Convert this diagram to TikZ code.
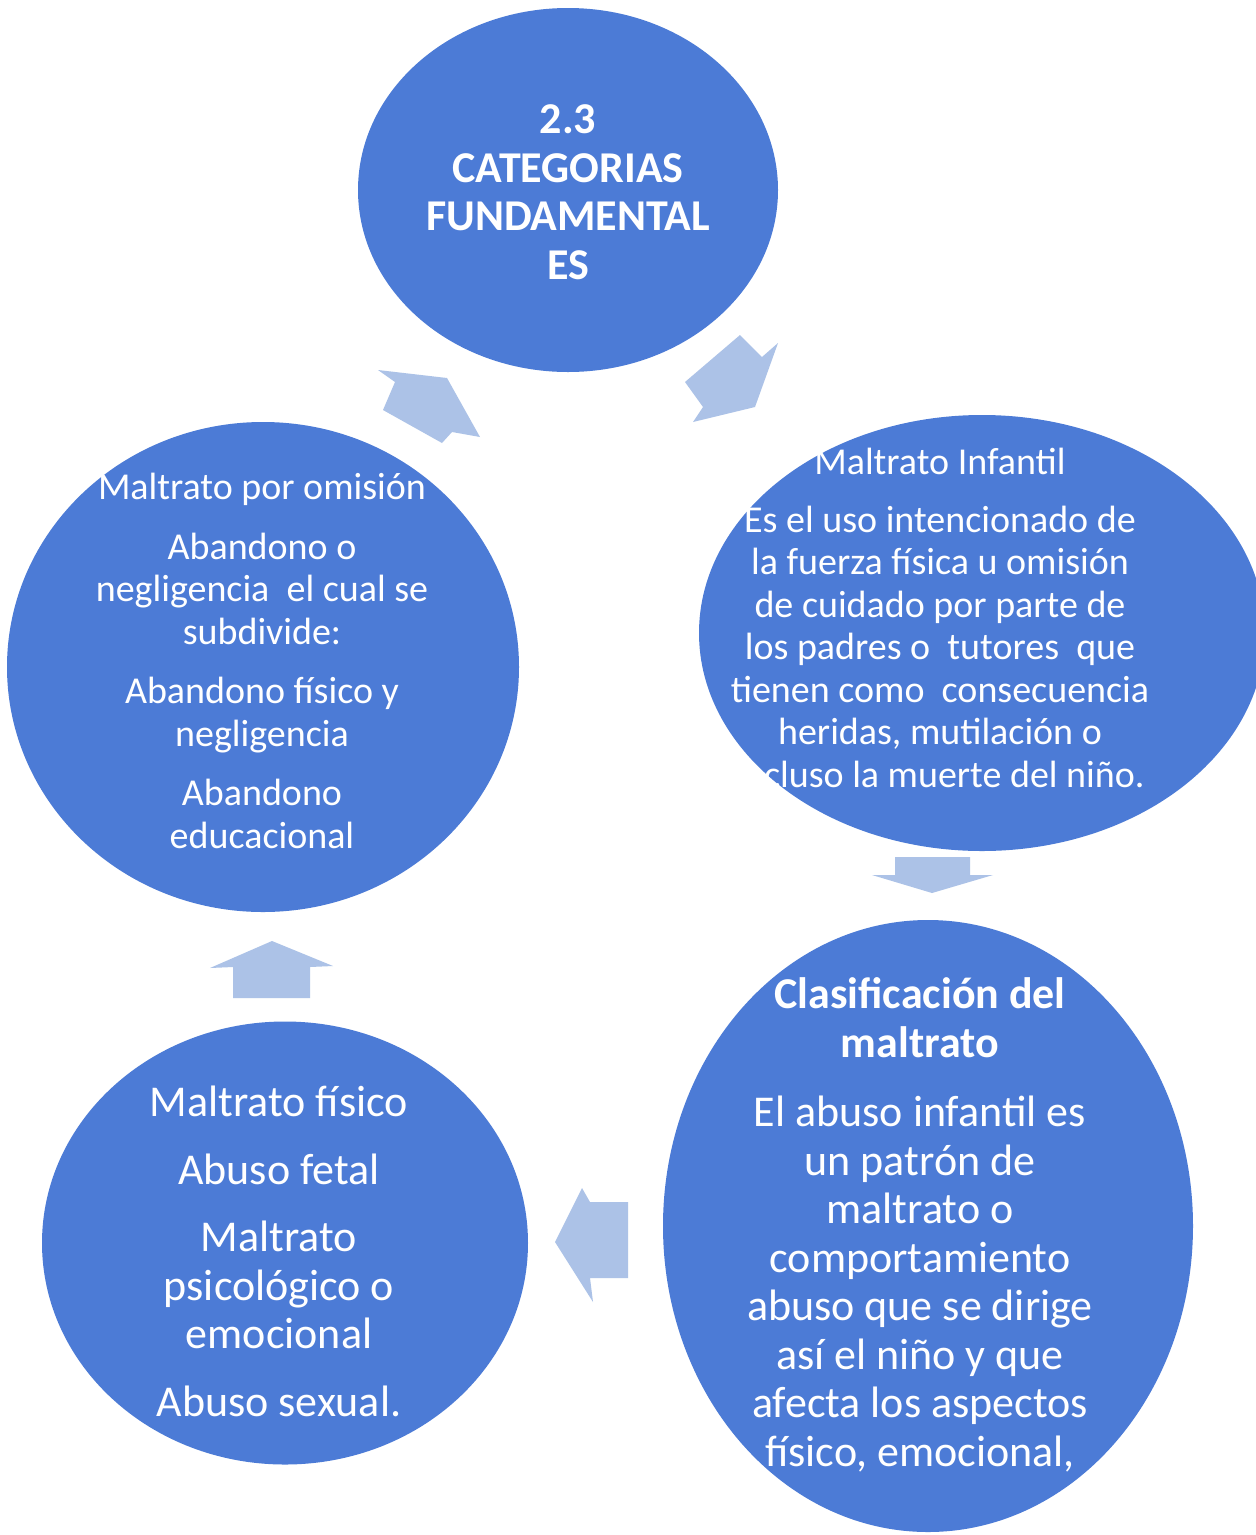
\documentclass[tikz,border=0pt]{standalone}
\usepackage{fontspec}
\setmainfont{Carlito}
\usetikzlibrary{shapes.geometric}
\definecolor{circblue}{RGB}{76,123,214}
\definecolor{arrblue}{RGB}{172,194,231}
\begin{document}
\begin{tikzpicture}[x=1pt,y=-1pt,
  bubble/.style={ellipse,fill=circblue,draw=none,inner sep=0pt},
  smalltext/.style={text=white,align=center,anchor=base,inner sep=0pt,font=\fontsize{38}{42.5}\selectfont},
  bigtext/.style={text=white,align=center,anchor=base,inner sep=0pt,font=\fontsize{44}{48.5}\selectfont},
  arrowshape/.style={fill=arrblue,draw=none}]
\useasboundingbox (0,0) rectangle (1256,1535);
\fill[white] (0,0) rectangle (1256,1535);

% circles
\node[bubble,minimum width=420pt,minimum height=364pt] (cat) at (568,190) {};
\node[bubble,minimum width=566pt,minimum height=436pt] (inf) at (982,633) {};
\node[bubble,minimum width=512pt,minimum height=490pt] (omi) at (263,667) {};
\node[bubble,minimum width=486pt,minimum height=443pt] (fis) at (285,1243) {};
\node[bubble,minimum width=530pt,minimum height=612pt] (cla) at (928,1226) {};

% texts (anchor=base is the baseline of the last line)
\node[bigtext,font=\bfseries\fontsize{44}{48.5}\selectfont] (catT) at (568,279) {2.3\\CATEGORIAS\\FUNDAMENTAL\\ES};
\node[smalltext] (infT) at (940,787) {Maltrato Infantil\\[15pt]Es el uso intencionado de\\la fuerza física u omisión\\de cuidado por parte de\\los padres o\ \ tutores\ \ que\\tienen como\ \ consecuencia\\heridas, mutilación o\\incluso la muerte del niño.};
\node[smalltext] (omiT) at (262,848) {Maltrato por omisión\\[17pt]Abandono o\\negligencia\ \ el cual se\\subdivide:\\[17pt]Abandono físico y\\negligencia\\[17pt]Abandono\\educacional};
\node[bigtext] (fisT) at (279,1416) {Maltrato físico\\[19pt]Abuso fetal\\[19pt]Maltrato\\psicológico o\\emocional\\[19pt]Abuso sexual.};
\node[bigtext] (claT) at (920,1466) {\textbf{Clasificación del}\\\textbf{maltrato}\\[21pt]El abuso infantil es\\un patrón de\\maltrato o\\comportamiento\\abuso que se dirige\\así el niño y que\\afecta los aspectos\\físico, emocional,};

% arrows
\fill[arrowshape] (378,370) -- (447,378) -- (480,437) -- (452,432) -- (442,443) -- (383,410) -- (395,382) -- cycle;
\fill[arrowshape] (740,335) -- (762,357) -- (778,343) -- (755,407) -- (693,422) -- (703,407) -- (685,382) -- cycle;
\fill[arrowshape] (895,857) -- (970,857) -- (970,875) -- (993,875) -- (932,893) -- (872,875) -- (895,875) -- cycle;
\fill[arrowshape] (582,1188) -- (590,1202) -- (628,1202) -- (628,1278) -- (590,1278) -- (593,1302) -- (555,1242) -- cycle;
\fill[arrowshape] (233,998) -- (233,967) -- (210,968) -- (272,941) -- (333,966) -- (310,967) -- (310,998) -- cycle;
\end{tikzpicture}
\end{document}
